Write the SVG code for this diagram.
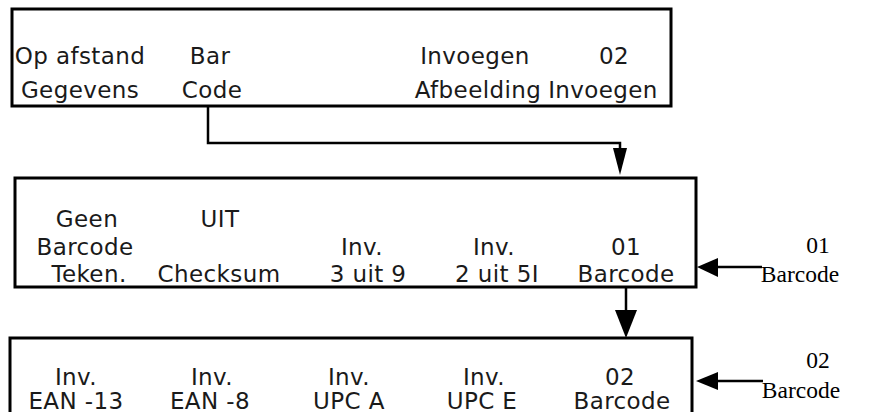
<svg xmlns="http://www.w3.org/2000/svg" width="881" height="412" viewBox="0 0 881 412">
<style>
.box{fill:#ffffff;stroke:#000;stroke-width:3}
.lcd{font-family:"DejaVu Sans","Liberation Sans",sans-serif;font-size:23px;letter-spacing:0.4px;fill:#1a1a1a;text-anchor:middle}
.lbl{font-family:"Liberation Serif","DejaVu Serif",serif;font-size:23.5px;fill:#000;text-anchor:middle}
.ln{fill:none;stroke:#000;stroke-width:2.5}
.ah{fill:#000;stroke:none}
</style>
<rect width="881" height="412" fill="#fff"/>
<g id="screen1">
<rect class="box" x="12" y="9" width="659" height="97"/>
<text class="lcd" x="80" y="64">Op afstand</text>
<text class="lcd" x="80" y="98">Gegevens</text>
<text class="lcd" x="210" y="64">Bar</text>
<text class="lcd" x="212" y="98">Code</text>
<text class="lcd" x="475" y="64">Invoegen</text>
<text class="lcd" x="478" y="98">Afbeelding</text>
<text class="lcd" x="614" y="64">02</text>
<text class="lcd" x="603" y="98">Invoegen</text>
</g>
<g id="screen2">
<rect class="box" x="15" y="178" width="681" height="109"/>
<text class="lcd" x="87" y="227">Geen</text>
<text class="lcd" x="85" y="255">Barcode</text>
<text class="lcd" x="89" y="282">Teken.</text>
<text class="lcd" x="220" y="227">UIT</text>
<text class="lcd" x="219" y="282">Checksum</text>
<text class="lcd" x="362" y="255">Inv.</text>
<text class="lcd" x="368" y="282">3 uit 9</text>
<text class="lcd" x="494" y="255">Inv.</text>
<text class="lcd" x="497" y="282">2 uit 5I</text>
<text class="lcd" x="626" y="255">01</text>
<text class="lcd" x="626" y="282">Barcode</text>
</g>
<g id="screen3">
<rect class="box" x="10" y="338" width="682" height="100"/>
<text class="lcd" x="76" y="385">Inv.</text>
<text class="lcd" x="76" y="409">EAN -13</text>
<text class="lcd" x="212" y="385">Inv.</text>
<text class="lcd" x="210" y="409">EAN -8</text>
<text class="lcd" x="349" y="385">Inv.</text>
<text class="lcd" x="349" y="409">UPC A</text>
<text class="lcd" x="484" y="385">Inv.</text>
<text class="lcd" x="482" y="409">UPC E</text>
<text class="lcd" x="620" y="385">02</text>
<text class="lcd" x="622" y="409">Barcode</text>
</g>
<g id="label1">
<text class="lbl" x="818" y="253">01</text>
<text class="lbl" x="800" y="282">Barcode</text>
</g>
<g id="label2">
<text class="lbl" x="818" y="368">02</text>
<text class="lbl" x="801" y="398">Barcode</text>
</g>
<g id="connectors">
<polyline class="ln" points="208,107 208,143 620,143 620,150"/>
<polygon class="ah" points="613,148 627,148 620,175"/>
<line class="ln" x1="626" y1="288" x2="626" y2="312"/>
<polygon class="ah" points="615,310 637,310 626,338"/>
<line class="ln" x1="716" y1="267" x2="762" y2="267"/>
<polygon class="ah" points="697,267 718,258 718,277"/>
<line class="ln" x1="716" y1="381" x2="763" y2="381"/>
<polygon class="ah" points="696,381 718,372 718,390"/>
</g>
</svg>
